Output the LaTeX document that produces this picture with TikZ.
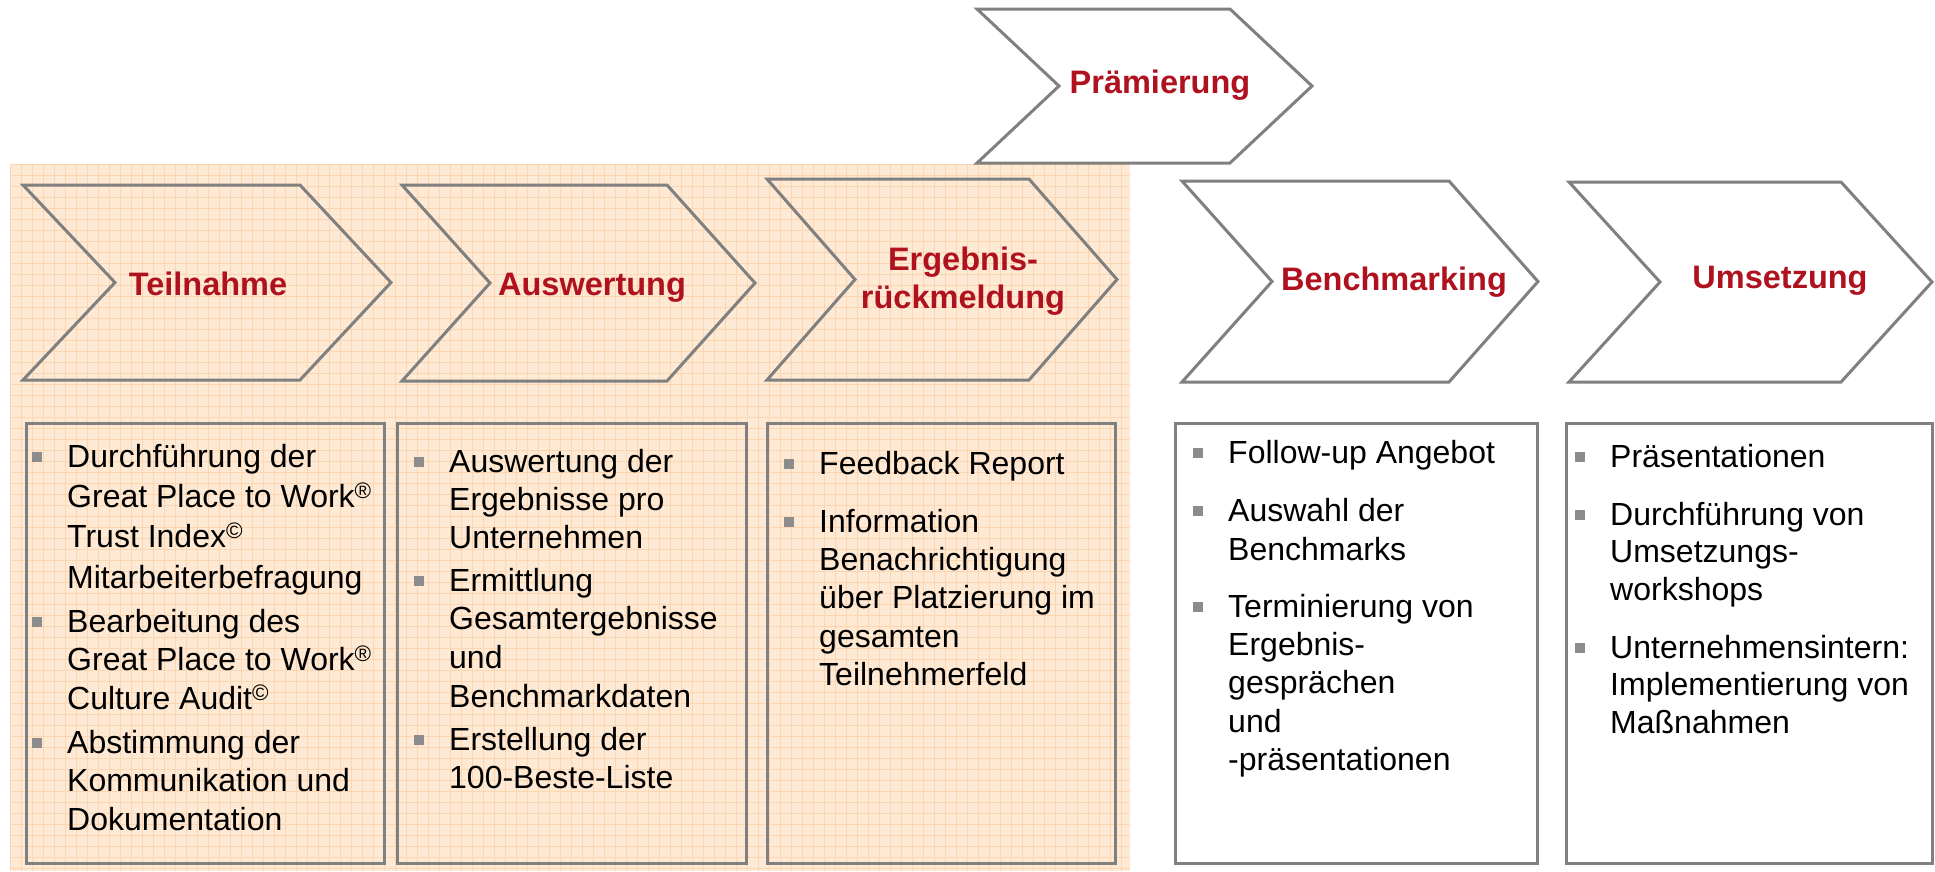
\documentclass[tikz,border=0pt]{standalone}
\usepackage{fontspec}
\setmainfont{Liberation Sans}
\definecolor{bgpeach}{RGB}{253,233,212}
\definecolor{gridorange}{RGB}{251,214,176}
\definecolor{outlinegrey}{RGB}{128,128,128}
\definecolor{headred}{RGB}{175,18,30}
\definecolor{bulletgrey}{RGB}{140,140,140}
\tikzset{
  chevline/.style={draw=outlinegrey, line width=3pt, line join=miter},
  boxframe/.style={draw=outlinegrey, line width=3pt, anchor=north west, inner sep=0pt},
  headtext/.style={text=headred, font=\fontsize{32.5}{38}\selectfont\bfseries, inner sep=0pt},
  bodytext/.style={text=black, align=left, inner sep=0pt, anchor=north west},
  bulletsq/.style={fill=bulletgrey, minimum width=10pt, minimum height=10pt, inner sep=0pt},
}
\newcommand\chevpath[6]{%
  \draw[chevline] (#1,#5) -- (#3,#5) -- (#4,{(#5+#6)/2}) -- (#3,#6) -- (#1,#6) -- (#2,{(#5+#6)/2}) -- cycle;}
\newcommand\bitem[5]{%
  \node[bulletsq] (#1b) at (#2-30,#3-10) {};
  \node[bodytext, font={\fontsize{32}{#4}\selectfont}] (#1) at (#2,#3-30) {\rule{0pt}{30pt}#5};}
\begin{document}
\begin{tikzpicture}[x=1pt,y=-1pt]
\useasboundingbox (0,0) rectangle (1935,871);
% background panel
\fill[bgpeach] (10,164) rectangle (1130,871);
\foreach \gx in {10,21,...,1130} \draw[gridorange, line width=0.8pt] (\gx,164) -- (\gx,871);
\foreach \gy in {164,175,...,871} \draw[gridorange, line width=0.8pt] (10,\gy) -- (1130,\gy);
% chevrons
\chevpath{23}{115}{300}{391}{185}{380}
\chevpath{402}{490}{667}{755}{185}{381}
\chevpath{767}{855}{1029}{1117}{179}{380}
\chevpath{977}{1059}{1230}{1312}{9}{163}
\chevpath{1182}{1272}{1449}{1538}{181}{382}
\chevpath{1569}{1660}{1841}{1932}{182}{382}
% headings
\node[headtext, anchor=base] (hteil) at (208,295) {Teilnahme};
\node[headtext, anchor=base] (hausw) at (592,295) {Auswertung};
\node[headtext, anchor=north, align=center] (herg) at (963,240) {\rule{0pt}{30pt}Ergebnis-\\rückmeldung};
\node[headtext, anchor=base] (hpraem) at (1160,93) {Prämierung};
\node[headtext, anchor=base] (hbench) at (1394,290) {Benchmarking};
\node[headtext, anchor=base] (hums) at (1780,288) {Umsetzung};
% boxes
\node[boxframe, minimum width=358pt, minimum height=440pt] (box1) at (25,422) {};
\node[boxframe, minimum width=349pt, minimum height=440pt] (box2) at (396,422) {};
\node[boxframe, minimum width=348pt, minimum height=440pt] (box3) at (766,422) {};
\node[boxframe, minimum width=362pt, minimum height=440pt] (box4) at (1174,422) {};
\node[boxframe, minimum width=366pt, minimum height=440pt] (box5) at (1565,422) {};
% box 1
\bitem{ta}{67}{467}{40.3}{Durchführung der\\Great Place to Work\textsuperscript{®}\\Trust Index\textsuperscript{©}\\Mitarbeiterbefragung}
\bitem{tb}{67}{632}{38.5}{Bearbeitung des\\Great Place to Work\textsuperscript{®}\\Culture Audit\textsuperscript{©}}
\bitem{tc}{67}{753}{38.5}{Abstimmung der\\Kommunikation und\\Dokumentation}
% box 2
\bitem{aa}{449}{472}{38}{Auswertung der\\Ergebnisse pro\\Unternehmen}
\bitem{ab}{449}{591}{38.7}{Ermittlung\\Gesamtergebnisse\\und\\Benchmarkdaten}
\bitem{ac}{449}{750}{38}{Erstellung der\\100-Beste-Liste}
% box 3
\bitem{ea}{819}{474}{38.3}{Feedback Report}
\bitem{eb}{819}{532}{38.3}{Information\\Benachrichtigung\\über Platzierung im\\gesamten\\Teilnehmerfeld}
% box 4
\bitem{ba}{1228}{463}{38.5}{Follow-up Angebot}
\bitem{bb}{1228}{521}{39}{Auswahl der\\Benchmarks}
\bitem{bc}{1228}{617}{38.3}{Terminierung von\\Ergebnis-\\gesprächen\\und\\-präsentationen}
% box 5
\bitem{ua}{1610}{467}{38}{Präsentationen}
\bitem{ub}{1610}{525}{37.5}{Durchführung von\\Umsetzungs-\\workshops}
\bitem{uc}{1610}{658}{37.5}{Unternehmensintern:\\Implementierung von\\Maßnahmen}
\end{tikzpicture}
\end{document}
